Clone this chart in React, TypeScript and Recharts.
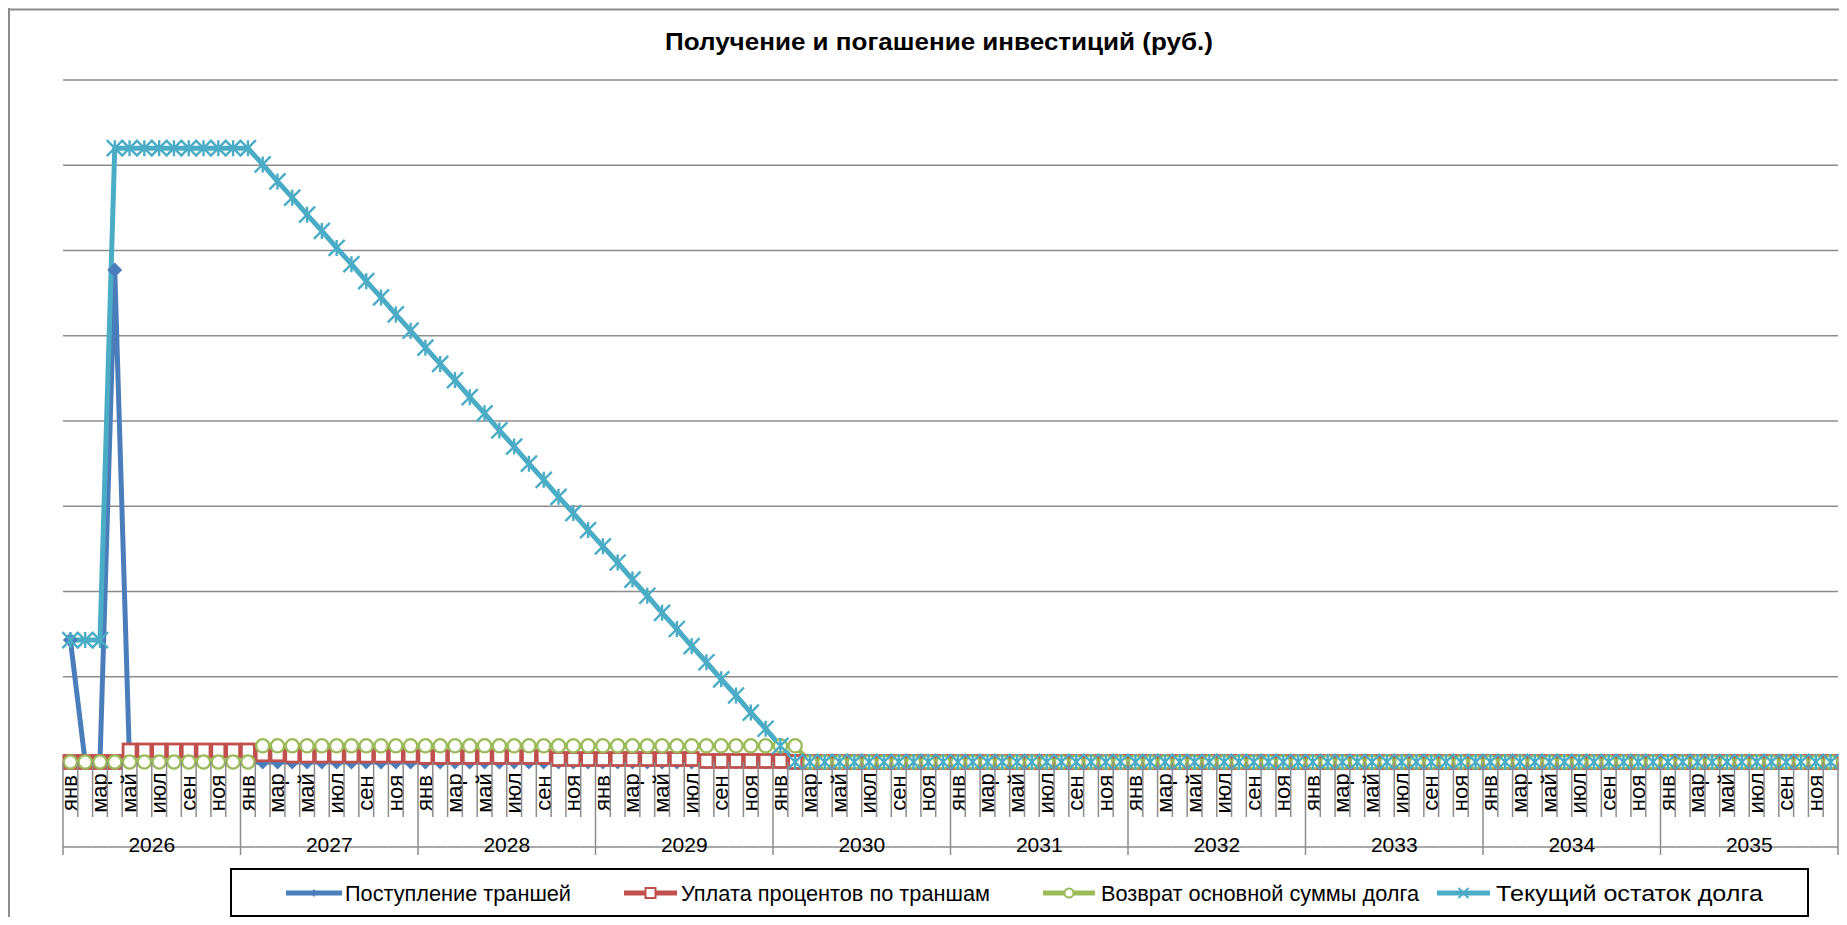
import React from 'react';
import { CartesianGrid, Line, LineChart, XAxis, YAxis } from 'recharts';

// Получение и погашение инвестиций, помесячно 2026–2035 (единица = одна линия сетки)
const MONTHS = ['янв', 'фев', 'мар', 'апр', 'май', 'июн', 'июл', 'авг', 'сен', 'окт', 'ноя', 'дек'];
const YEARS = [2026, 2027, 2028, 2029, 2030, 2031, 2032, 2033, 2034, 2035];
const Y_TICKS = [0, 1, 2, 3, 4, 5, 6, 7, 8];

const TRANCHES = [
  1.43, 0, 0, 5.77, 0, 0, 0, 0, 0, 0, 0, 0,
  0, 0, 0, 0, 0, 0, 0, 0, 0, 0, 0, 0,
  0, 0, 0, 0, 0, 0, 0, 0, 0, 0, 0, 0,
  0, 0, 0, 0, 0, 0, 0, 0, 0, 0, 0, 0,
  0, 0, 0, 0, 0, 0, 0, 0, 0, 0, 0, 0,
  0, 0, 0, 0, 0, 0, 0, 0, 0, 0, 0, 0,
  0, 0, 0, 0, 0, 0, 0, 0, 0, 0, 0, 0,
  0, 0, 0, 0, 0, 0, 0, 0, 0, 0, 0, 0,
  0, 0, 0, 0, 0, 0, 0, 0, 0, 0, 0, 0,
  0, 0, 0, 0, 0, 0, 0, 0, 0, 0, 0, 0,
];

const INTEREST = [
  0, 0, 0, 0, 0.135, 0.135, 0.135, 0.135, 0.135, 0.135, 0.135, 0.135,
  0.135, 0.09, 0.09, 0.075, 0.075, 0.075, 0.075, 0.075, 0.075, 0.075, 0.075, 0.075,
  0.06, 0.06, 0.06, 0.06, 0.06, 0.06, 0.06, 0.06, 0.06, 0.035, 0.035, 0.035,
  0.035, 0.035, 0.035, 0.035, 0.035, 0.035, 0.035, 0.012, 0.012, 0.012, 0.012, 0.012,
  0.012, 0, 0, 0, 0, 0, 0, 0, 0, 0, 0, 0,
  0, 0, 0, 0, 0, 0, 0, 0, 0, 0, 0, 0,
  0, 0, 0, 0, 0, 0, 0, 0, 0, 0, 0, 0,
  0, 0, 0, 0, 0, 0, 0, 0, 0, 0, 0, 0,
  0, 0, 0, 0, 0, 0, 0, 0, 0, 0, 0, 0,
  0, 0, 0, 0, 0, 0, 0, 0, 0, 0, 0, 0,
];

const REPAYMENT = [
  0, 0, 0, 0, 0, 0, 0, 0, 0, 0, 0, 0,
  0, 0.19, 0.19, 0.19, 0.19, 0.19, 0.19, 0.19, 0.19, 0.19, 0.19, 0.19,
  0.19, 0.19, 0.19, 0.19, 0.19, 0.19, 0.19, 0.19, 0.19, 0.19, 0.19, 0.19,
  0.19, 0.19, 0.19, 0.19, 0.19, 0.19, 0.19, 0.19, 0.19, 0.19, 0.19, 0.19,
  0.19, 0.19, 0, 0, 0, 0, 0, 0, 0, 0, 0, 0,
  0, 0, 0, 0, 0, 0, 0, 0, 0, 0, 0, 0,
  0, 0, 0, 0, 0, 0, 0, 0, 0, 0, 0, 0,
  0, 0, 0, 0, 0, 0, 0, 0, 0, 0, 0, 0,
  0, 0, 0, 0, 0, 0, 0, 0, 0, 0, 0, 0,
  0, 0, 0, 0, 0, 0, 0, 0, 0, 0, 0, 0,
];

const BALANCE = [
  1.43, 1.43, 1.43, 7.2, 7.2, 7.2, 7.2, 7.2, 7.2, 7.2, 7.2, 7.2,
  7.2, 7.01, 6.81, 6.62, 6.42, 6.23, 6.03, 5.84, 5.64, 5.45, 5.25, 5.06,
  4.86, 4.67, 4.48, 4.28, 4.09, 3.89, 3.7, 3.5, 3.31, 3.11, 2.92, 2.72,
  2.53, 2.34, 2.14, 1.95, 1.75, 1.56, 1.36, 1.17, 0.97, 0.78, 0.58, 0.39,
  0.19, 0, 0, 0, 0, 0, 0, 0, 0, 0, 0, 0,
  0, 0, 0, 0, 0, 0, 0, 0, 0, 0, 0, 0,
  0, 0, 0, 0, 0, 0, 0, 0, 0, 0, 0, 0,
  0, 0, 0, 0, 0, 0, 0, 0, 0, 0, 0, 0,
  0, 0, 0, 0, 0, 0, 0, 0, 0, 0, 0, 0,
  0, 0, 0, 0, 0, 0, 0, 0, 0, 0, 0, 0,
];

const SERIES_NAMES = [
  'Поступление траншей',
  'Уплата процентов по траншам',
  'Возврат основной суммы долга',
  'Текущий остаток долга',
];

const BLUE = '#4a7ebb';
const RED = '#c0504d';
const GREEN = '#9bbb59';
const CYAN = '#4bacc6';
const GRID = '#8c8c8c';
const FONT = '"Liberation Sans", Arial, sans-serif';

const CHART_W = 1839;
const CHART_H = 909;
const MARGIN = { top: 72, right: 9, bottom: 45, left: 55 };
const X_AXIS_H = 110;
const PLOT_W = CHART_W - MARGIN.left - MARGIN.right;
const PLOT_BOTTOM = CHART_H - MARGIN.bottom - X_AXIS_H;

const data = BALANCE.map((_, i) => ({
  key: String(i),
  tranche: TRANCHES[i],
  interest: INTEREST[i],
  repay: REPAYMENT[i],
  balance: BALANCE[i],
}));

// categories sit in the middle of their month slot, like Excel
const BAND = PLOT_W / data.length;

function MonthTick(props: any) {
  const { x, payload } = props;
  const i = Number(payload.value);
  const left = x - BAND / 2;
  const right = x + BAND / 2;
  const m = i % 12;
  const year = YEARS[Math.floor(i / 12)];
  return (
    <g>
      <line x1={left} x2={right} y1={839} y2={839} stroke={GRID} strokeWidth={1.5} />
      <line x1={left} x2={left} y1={PLOT_BOTTOM} y2={m === 0 ? 847 : 809} stroke={GRID} strokeWidth={1.5} />
      {i === data.length - 1 && (
        <line x1={right} x2={right} y1={PLOT_BOTTOM} y2={847} stroke={GRID} strokeWidth={1.5} />
      )}
      {m % 2 === 0 && (
        <text
          transform={`translate(${x + 7},785) rotate(-90)`}
          textAnchor="middle"
          fontSize={22}
          fontFamily={FONT}
          fill="#000"
        >
          {MONTHS[m]}
        </text>
      )}
      {m === 11 && (
        <text x={x - 5.5 * BAND} y={844} textAnchor="middle" fontSize={21} fontFamily={FONT} fill="#000">
          {year}
        </text>
      )}
    </g>
  );
}

const EmptyTick = () => <g />;

const diamondDot = (p: any) => (
  <path
    key={`d${p.index}`}
    d={`M${p.cx},${p.cy - 7.5}L${p.cx + 7.5},${p.cy}L${p.cx},${p.cy + 7.5}L${p.cx - 7.5},${p.cy}Z`}
    fill={BLUE}
  />
);

const squareDot = (p: any) => (
  <rect key={`s${p.index}`} x={p.cx - 6.5} y={p.cy - 6.5} width={13} height={13} fill="#fff" stroke={RED} strokeWidth={2.8} />
);

const circleDot = (p: any) => (
  <circle key={`c${p.index}`} cx={p.cx} cy={p.cy} r={6.6} fill="#fff" stroke={GREEN} strokeWidth={2.3} />
);

const starDot = (p: any) => (
  <path
    key={`x${p.index}`}
    d={`M${p.cx - 8},${p.cy - 8}L${p.cx + 8},${p.cy + 8}M${p.cx - 8},${p.cy + 8}L${p.cx + 8},${p.cy - 8}M${p.cx},${p.cy - 8}L${p.cx},${p.cy + 8}`}
    stroke={CYAN}
    strokeWidth={2.4}
    fill="none"
  />
);

// legend layout (x1, x2 of the sample line, text start, text width)
const LEGEND_LAYOUT = [
  { x1: 278, x2: 334, tx: 337, tw: 226 },
  { x1: 616, x2: 669, tx: 673, tw: 309 },
  { x1: 1035, x2: 1087, tx: 1093, tw: 318 },
  { x1: 1429, x2: 1482, tx: 1488, tw: 267 },
];
const LEGEND_COLORS = [BLUE, RED, GREEN, CYAN];

function LegendMarker({ idx, cx, cy }: { idx: number; cx: number; cy: number }) {
  if (idx === 0) return <path d={`M${cx},${cy - 4}L${cx + 3},${cy}L${cx},${cy + 4}L${cx - 3},${cy}Z`} fill={BLUE} />;
  if (idx === 1) return <rect x={cx - 5} y={cy - 5} width={10} height={10} fill="#fff" stroke={RED} strokeWidth={2} />;
  if (idx === 2) return <circle cx={cx} cy={cy} r={4.5} fill="#fff" stroke={GREEN} strokeWidth={2} />;
  return (
    <path
      d={`M${cx - 5},${cy - 5}L${cx + 5},${cy + 5}M${cx - 5},${cy + 5}L${cx + 5},${cy - 5}`}
      stroke={CYAN}
      strokeWidth={2}
    />
  );
}

export default function App() {
  return (
    <div style={{ position: 'relative', width: CHART_W, height: CHART_H, overflow: 'hidden', background: '#fff' }}>
      <style>{'body{overflow:hidden;}'}</style>
      <LineChart width={CHART_W} height={CHART_H} data={data} margin={MARGIN}>
        <CartesianGrid vertical={false} stroke={GRID} strokeWidth={1.5} />
        <YAxis
          domain={[0, 8]}
          ticks={Y_TICKS}
          interval={0}
          width={0}
          tick={EmptyTick}
          axisLine={false}
          tickLine={false}
        />
        <XAxis
          dataKey="key"
          interval={0}
          height={X_AXIS_H}
          padding={{ left: BAND / 2, right: BAND / 2 }}
          tickLine={false}
          axisLine={{ stroke: GRID, strokeWidth: 1.5 }}
          tick={(p: any) => <MonthTick {...p} />}
        />
        <Line
          dataKey="tranche"
          name={SERIES_NAMES[0]}
          stroke={BLUE}
          strokeWidth={5}
          dot={diamondDot}
          activeDot={false}
          isAnimationActive={false}
        />
        <Line
          dataKey="interest"
          name={SERIES_NAMES[1]}
          stroke={RED}
          strokeWidth={4.5}
          dot={squareDot}
          activeDot={false}
          isAnimationActive={false}
        />
        <Line
          dataKey="repay"
          name={SERIES_NAMES[2]}
          stroke={GREEN}
          strokeWidth={4.5}
          dot={circleDot}
          activeDot={false}
          isAnimationActive={false}
        />
        <Line
          dataKey="balance"
          name={SERIES_NAMES[3]}
          stroke={CYAN}
          strokeWidth={5}
          dot={starDot}
          activeDot={false}
          isAnimationActive={false}
        />
      </LineChart>
      <svg
        width={CHART_W}
        height={CHART_H}
        style={{ position: 'absolute', left: 0, top: 0, pointerEvents: 'none' }}
      >
        <line x1={1} x2={1} y1={0} y2={CHART_H} stroke={GRID} strokeWidth={2} />
        <line x1={0} x2={CHART_W} y1={1.5} y2={1.5} stroke={GRID} strokeWidth={2} />
        <text
          x={931}
          y={42}
          textAnchor="middle"
          fontSize={24}
          fontWeight="bold"
          fontFamily={FONT}
          textLength={548}
          lengthAdjust="spacingAndGlyphs"
        >
          Получение и погашение инвестиций (руб.)
        </text>
        <rect x={223} y={861} width={1577} height={47} fill="none" stroke="#000" strokeWidth={2} />
        {SERIES_NAMES.map((name, i) => {
          const l = LEGEND_LAYOUT[i];
          return (
            <g key={name}>
              <line x1={l.x1} x2={l.x2} y1={885} y2={885} stroke={LEGEND_COLORS[i]} strokeWidth={5} />
              <LegendMarker idx={i} cx={(l.x1 + l.x2) / 2} cy={885} />
              <text
                x={l.tx}
                y={893}
                fontSize={22}
                fontFamily={FONT}
                textLength={l.tw}
                lengthAdjust="spacingAndGlyphs"
              >
                {name}
              </text>
            </g>
          );
        })}
      </svg>
    </div>
  );
}
